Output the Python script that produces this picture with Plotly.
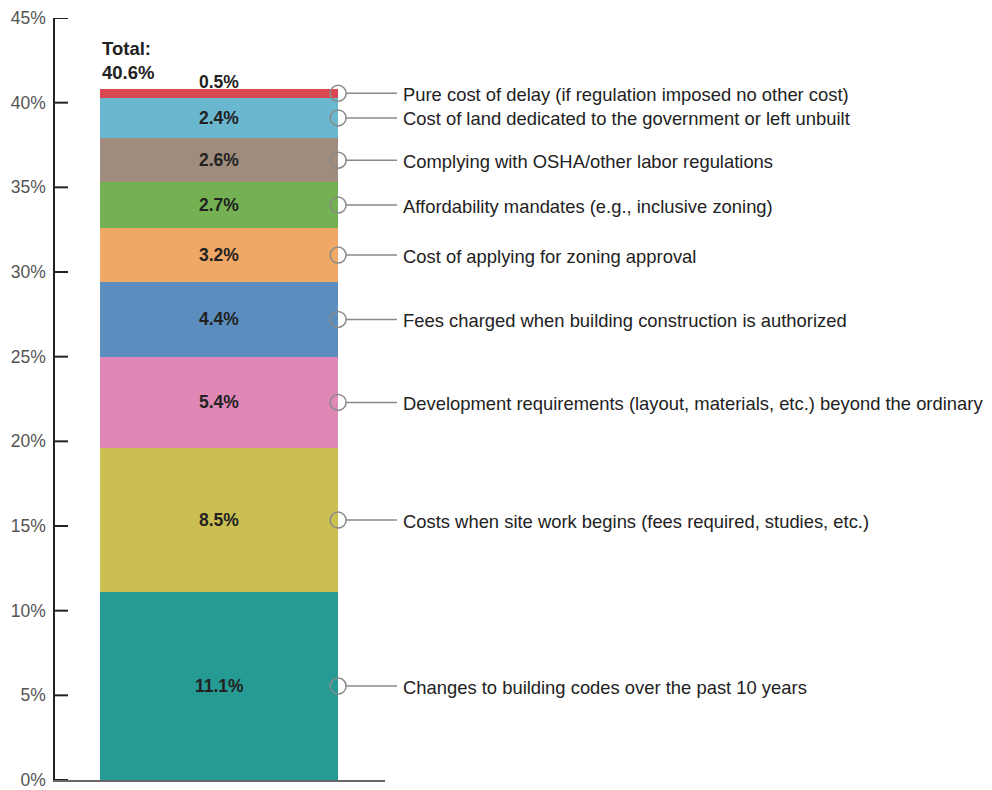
import plotly.graph_objects as go

# segment data, bottom to top
categories = [
    "Changes to building codes over the past 10 years",
    "Costs when site work begins (fees required, studies, etc.)",
    "Development requirements (layout, materials, etc.) beyond the ordinary",
    "Fees charged when building construction is authorized",
    "Cost of applying for zoning approval",
    "Affordability mandates (e.g., inclusive zoning)",
    "Complying with OSHA/other labor regulations",
    "Cost of land dedicated to the government or left unbuilt",
    "Pure cost of delay (if regulation imposed no other cost)",
]
values = [11.1, 8.5, 5.4, 4.4, 3.2, 2.7, 2.6, 2.4, 0.5]
colors = ["#259B94", "#CCBF52", "#DF87B5", "#5B8DBF", "#F0A866",
          "#74B152", "#A08C7D", "#6AB7D0", "#DA4750"]
total_label = "Total:<br>40.6%"
y_ticks = [0, 5, 10, 15, 20, 25, 30, 35, 40, 45]

label_font = "Liberation Sans, Arial, sans-serif"
tick_font = "Liberation Sans Narrow, Arial Narrow, Liberation Sans, sans-serif"

fig = go.Figure()
for cat, v, c in zip(categories, values, colors):
    fig.add_trace(go.Bar(x=[0], y=[v], width=1, marker_color=c,
                         marker_line_width=0, name=cat, hoverinfo="skip"))

bases = [sum(values[:i]) for i in range(len(values))]
mids = [b + v / 2 for b, v in zip(bases, values)]

# value labels in the bars
for i, (b, v, m) in enumerate(zip(bases, values, mids)):
    last = i == len(values) - 1
    fig.add_annotation(x=0, y=(b + v) if last else m, text=f"<b>{v}%</b>",
                       showarrow=False, yshift=7 if last else 0,
                       font=dict(size=17.5, color="#222", family=label_font))

# leader circles, lines and category labels
fig.add_trace(go.Scatter(x=[0.5] * len(mids), y=mids, mode="markers",
                         marker=dict(symbol="circle-open", size=16,
                                     line=dict(color="#8a8a8a", width=1.5), color="#8a8a8a"),
                         cliponaxis=False, hoverinfo="skip", showlegend=False))
for cat, m in zip(categories, mids):
    fig.add_shape(type="line", x0=(346 - 55) / 330, x1=(397 - 55) / 330, y0=m, y1=m,
                  xref="paper", yref="y", line=dict(color="#8a8a8a", width=1.5))
    fig.add_annotation(x=(401 - 55) / 330, y=m, text=cat, showarrow=False,
                       xref="paper", xanchor="left", yshift=-1,
                       font=dict(size=18.4, color="#222", family=label_font))

fig.add_annotation(x=-0.5, y=sum(values), text=f"<b>{total_label}</b>", showarrow=False,
                   xanchor="left", yanchor="bottom", yshift=4, align="left",
                   font=dict(size=18.5, color="#222", family=label_font))

# tick marks pointing into the plot
for t in y_ticks:
    fig.add_shape(type="line", x0=0, x1=13 / 330, y0=t, y1=t, xref="paper", yref="y",
                  line=dict(color="#222", width=2))

# page body adds an 8px offset, so the figure is shrunk to fit the window
fig.update_layout(
    barmode="stack",
    width=984, height=782,
    margin=dict(l=47, r=607, t=10, b=10),
    plot_bgcolor="white", paper_bgcolor="white",
    showlegend=False,
    xaxis=dict(range=[-0.689, 0.697], showticklabels=False, showgrid=False,
               zeroline=False, showline=True, linecolor="#666", linewidth=1.5,
               ticks="", automargin=False),
    yaxis=dict(range=[0, 45], tickvals=y_ticks, ticktext=[f"{t}%" for t in y_ticks],
               ticks="", ticklabeloverflow="allow", ticklabelstandoff=4,
               showline=True, linecolor="#222", linewidth=1.5, showgrid=False,
               zeroline=False, automargin=False,
               tickfont=dict(size=17.5, color="#555", family=tick_font)),
)

fig.write_html("out.html")
